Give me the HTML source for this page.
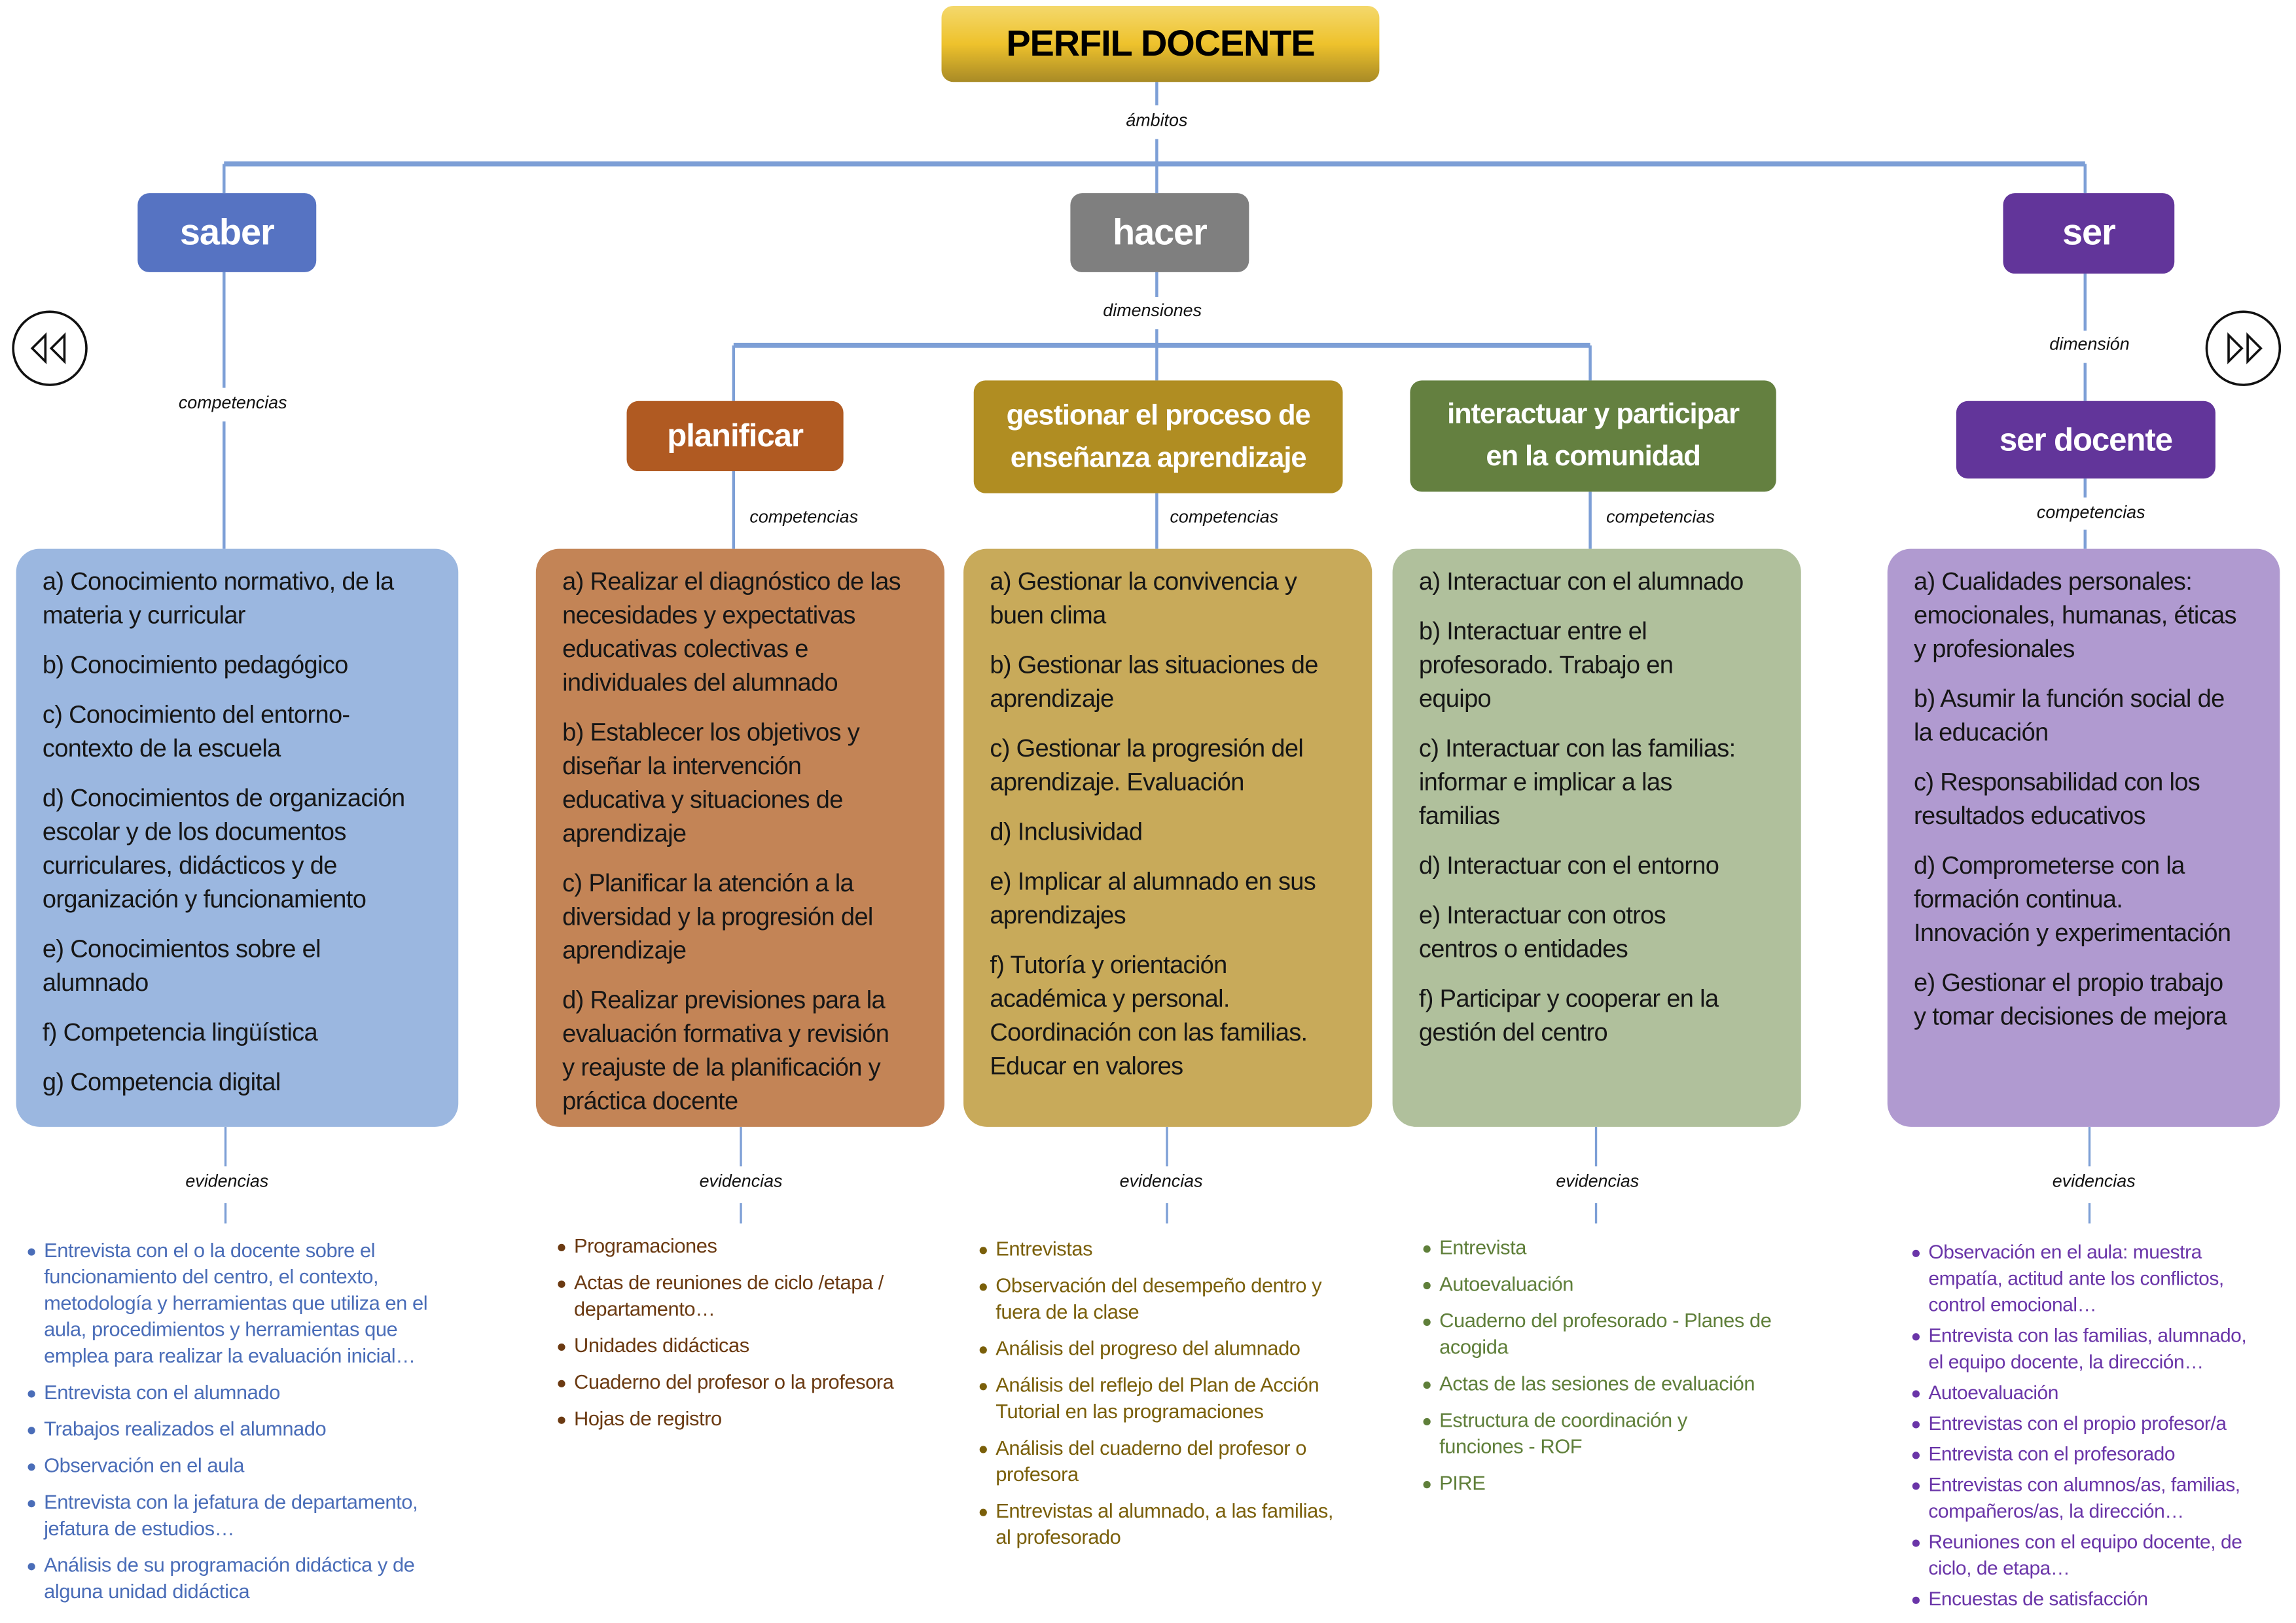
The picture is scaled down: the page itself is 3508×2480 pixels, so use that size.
<!DOCTYPE html>
<html><head><meta charset="utf-8">
<style>
html,body{margin:0;padding:0;background:#fff;width:3508px;height:2480px;overflow:hidden}
#s{position:absolute;left:0;top:0;width:1568px;height:1109px;transform:scale(2.2372,2.2362);transform-origin:0 0;font-family:"Liberation Sans",sans-serif}
.a{position:absolute}
.h{position:absolute;color:#fff;font-weight:bold;display:flex;align-items:center;justify-content:center;text-align:center;border-radius:8px;letter-spacing:-0.5px}
.lab{position:absolute;font-style:italic;font-size:12px;color:#111;white-space:nowrap;transform:translateX(-50%)}
.box{position:absolute;top:375px;height:395px;border-radius:16px;box-sizing:border-box;padding:11px 0 0 18px;font-size:17px;line-height:23px;color:#161616;letter-spacing:-0.3px;white-space:nowrap}
.box p{margin:0 0 11px 0}
.ev{position:absolute;font-size:13.8px;line-height:18px;white-space:nowrap;letter-spacing:-0.2px}
.ev div{position:relative;margin-bottom:7px}
.ev div::before{content:"";position:absolute;left:-11px;top:7px;width:5px;height:5px;border-radius:50%;background:currentColor}
</style></head><body><div id="s">
<svg class="a" style="left:0;top:0" width="1568" height="1109">
<g stroke="#7d9fd6" stroke-width="2" fill="none">
<line x1="790" y1="56" x2="790" y2="72"/><line x1="790" y1="95" x2="790" y2="112"/>
<line x1="153" y1="112" x2="1424" y2="112" stroke-width="3.5"/>
<line x1="153" y1="112" x2="153" y2="132"/><line x1="790" y1="112" x2="790" y2="132"/><line x1="1424" y1="112" x2="1424" y2="132"/>
<line x1="153" y1="186" x2="153" y2="265"/><line x1="153" y1="288" x2="153" y2="375"/>
<line x1="790" y1="186" x2="790" y2="203"/><line x1="790" y1="225" x2="790" y2="260"/>
<line x1="501" y1="236" x2="1086" y2="236" stroke-width="3.5"/>
<line x1="501" y1="236" x2="501" y2="274"/><line x1="1086" y1="236" x2="1086" y2="260"/>
<line x1="1424" y1="187" x2="1424" y2="226"/><line x1="1424" y1="248" x2="1424" y2="274"/>
<line x1="501" y1="322" x2="501" y2="375"/><line x1="790" y1="337" x2="790" y2="375"/><line x1="1086" y1="336" x2="1086" y2="375"/>
<line x1="1424" y1="327" x2="1424" y2="340"/><line x1="1424" y1="362" x2="1424" y2="375"/>
<g stroke-width="1.5">
<line x1="154" y1="770" x2="154" y2="797"/><line x1="154" y1="822" x2="154" y2="836"/>
<line x1="506" y1="770" x2="506" y2="797"/><line x1="506" y1="822" x2="506" y2="836"/>
<line x1="797" y1="770" x2="797" y2="797"/><line x1="797" y1="822" x2="797" y2="836"/>
<line x1="1090" y1="770" x2="1090" y2="797"/><line x1="1090" y1="822" x2="1090" y2="836"/>
<line x1="1427" y1="770" x2="1427" y2="797"/><line x1="1427" y1="822" x2="1427" y2="836"/>
</g></g>
<g stroke="#111" stroke-width="1.6" fill="none">
<circle cx="34" cy="238" r="25"/><circle cx="1532" cy="238" r="25"/>
<path d="M31 229 L22 238 L31 247 Z M44 229 L35 238 L44 247 Z"/>
<path d="M1522 229 L1531 238 L1522 247 Z M1535 229 L1544 238 L1535 247 Z"/>
</g>
<defs><linearGradient id="g" x1="0" y1="0" x2="0" y2="1"><stop offset="0" stop-color="#f4d86c"/><stop offset="0.5" stop-color="#eec22c"/><stop offset="1" stop-color="#a88a26"/></linearGradient></defs>
<rect x="643" y="4" width="299" height="52" rx="8" fill="url(#g)"/>
</svg>
<div class="h" style="left:643px;top:4px;width:299px;height:52px;color:#000;font-size:25px">PERFIL DOCENTE</div>
<div class="lab" style="left:790px;top:75px">ámbitos</div>
<div class="h" style="left:94px;top:132px;width:122px;height:54px;background:#5673c2;font-size:25px">saber</div>
<div class="h" style="left:731px;top:132px;width:122px;height:54px;background:#7f7f7f;font-size:25px">hacer</div>
<div class="h" style="left:1368px;top:132px;width:117px;height:55px;background:#62359a;font-size:25px">ser</div>
<div class="lab" style="left:159px;top:268px">competencias</div>
<div class="lab" style="left:787px;top:205px">dimensiones</div>
<div class="lab" style="left:1427px;top:228px">dimensión</div>
<div class="h" style="left:428px;top:274px;width:148px;height:48px;background:#b05a22;font-size:22px">planificar</div>
<div class="h" style="left:665px;top:260px;width:252px;height:77px;background:#b08d22;font-size:19.5px;line-height:29px">gestionar el proceso de<br>enseñanza aprendizaje</div>
<div class="h" style="left:963px;top:260px;width:250px;height:76px;background:#648040;font-size:19.5px;line-height:29px">interactuar y participar<br>en la comunidad</div>
<div class="h" style="left:1336px;top:274px;width:177px;height:53px;background:#62359a;font-size:22px">ser docente</div>
<div class="lab" style="left:549px;top:346px">competencias</div>
<div class="lab" style="left:836px;top:346px">competencias</div>
<div class="lab" style="left:1134px;top:346px">competencias</div>
<div class="lab" style="left:1428px;top:343px">competencias</div>

<div class="box" style="left:11px;width:302px;background:#9bb7e0">
<p>a) Conocimiento normativo, de la<br>materia y curricular</p><p>b) Conocimiento pedagógico</p><p>c) Conocimiento del entorno-<br>contexto de la escuela</p><p>d) Conocimientos de organización<br>escolar y de los documentos<br>curriculares, didácticos y de<br>organización y funcionamiento</p><p>e) Conocimientos sobre el<br>alumnado</p><p>f) Competencia lingüística</p><p>g) Competencia digital</p></div>
<div class="box" style="left:366px;width:279px;background:#c38456">
<p>a) Realizar el diagnóstico de las<br>necesidades y expectativas<br>educativas colectivas e<br>individuales del alumnado</p><p>b) Establecer los objetivos y<br>diseñar la intervención<br>educativa y situaciones de<br>aprendizaje</p><p>c) Planificar la atención a la<br>diversidad y la progresión del<br>aprendizaje</p><p>d) Realizar previsiones para la<br>evaluación formativa y revisión<br>y reajuste de la planificación y<br>práctica docente</p></div>
<div class="box" style="left:658px;width:279px;background:#c8aa5a">
<p>a) Gestionar la convivencia y<br>buen clima</p><p>b) Gestionar las situaciones de<br>aprendizaje</p><p>c) Gestionar la progresión del<br>aprendizaje. Evaluación</p><p>d) Inclusividad</p><p>e) Implicar al alumnado en sus<br>aprendizajes</p><p>f) Tutoría y orientación<br>académica y personal.<br>Coordinación con las familias.<br>Educar en valores</p></div>
<div class="box" style="left:951px;width:279px;background:#b0c09c">
<p>a) Interactuar con el alumnado</p><p>b) Interactuar entre el<br>profesorado. Trabajo en<br>equipo</p><p>c) Interactuar con las familias:<br>informar e implicar a las<br>familias</p><p>d) Interactuar con el entorno</p><p>e) Interactuar con otros<br>centros o entidades</p><p>f) Participar y cooperar en la<br>gestión del centro</p></div>
<div class="box" style="left:1289px;width:268px;background:#b09ad0">
<p>a) Cualidades personales:<br>emocionales, humanas, éticas<br>y profesionales</p><p>b) Asumir la función social de<br>la educación</p><p>c) Responsabilidad con los<br>resultados educativos</p><p>d) Comprometerse con la<br>formación continua.<br>Innovación y experimentación</p><p>e) Gestionar el propio trabajo<br>y tomar decisiones de mejora</p></div>

<div class="lab" style="left:155px;top:800px">evidencias</div>
<div class="lab" style="left:506px;top:800px">evidencias</div>
<div class="lab" style="left:793px;top:800px">evidencias</div>
<div class="lab" style="left:1091px;top:800px">evidencias</div>
<div class="lab" style="left:1430px;top:800px">evidencias</div>

<div class="ev" style="left:30px;top:846px;color:#4a6db8"><div>Entrevista con el o la docente sobre el<br>funcionamiento del centro, el contexto,<br>metodología y herramientas que utiliza en el<br>aula, procedimientos y herramientas que<br>emplea para realizar la evaluación inicial…</div><div>Entrevista con el alumnado</div><div>Trabajos realizados el alumnado</div><div>Observación en el aula</div><div>Entrevista con la jefatura de departamento,<br>jefatura de estudios…</div><div>Análisis de su programación didáctica y de<br>alguna unidad didáctica</div></div>
<div class="ev" style="left:392px;top:843px;color:#6b3a12"><div>Programaciones</div><div>Actas de reuniones de ciclo /etapa /<br>departamento…</div><div>Unidades didácticas</div><div>Cuaderno del profesor o la profesora</div><div>Hojas de registro</div></div>
<div class="ev" style="left:680px;top:845px;color:#7a5f0a"><div>Entrevistas</div><div>Observación del desempeño dentro y<br>fuera de la clase</div><div>Análisis del progreso del alumnado</div><div>Análisis del reflejo del Plan de Acción<br>Tutorial en las programaciones</div><div>Análisis del cuaderno del profesor o<br>profesora</div><div>Entrevistas al alumnado, a las familias,<br>al profesorado</div></div>
<div class="ev" style="left:983px;top:844px;color:#5f7f3a"><div>Entrevista</div><div>Autoevaluación</div><div>Cuaderno del profesorado - Planes de<br>acogida</div><div>Actas de las sesiones de evaluación</div><div>Estructura de coordinación y<br>funciones - ROF</div><div>PIRE</div></div>
<div class="ev" style="left:1317px;top:847px;color:#6a35a8;font-size:13.4px"><div style="margin-bottom:3px">Observación en el aula: muestra<br>empatía, actitud ante los conflictos,<br>control emocional…</div><div style="margin-bottom:3px">Entrevista con las familias, alumnado,<br>el equipo docente, la dirección…</div><div style="margin-bottom:3px">Autoevaluación</div><div style="margin-bottom:3px">Entrevistas con el propio profesor/a</div><div style="margin-bottom:3px">Entrevista con el profesorado</div><div style="margin-bottom:3px">Entrevistas con alumnos/as, familias,<br>compañeros/as, la dirección…</div><div style="margin-bottom:3px">Reuniones con el equipo docente, de<br>ciclo, de etapa…</div><div style="margin-bottom:3px">Encuestas de satisfacción</div></div>
</div></body></html>
